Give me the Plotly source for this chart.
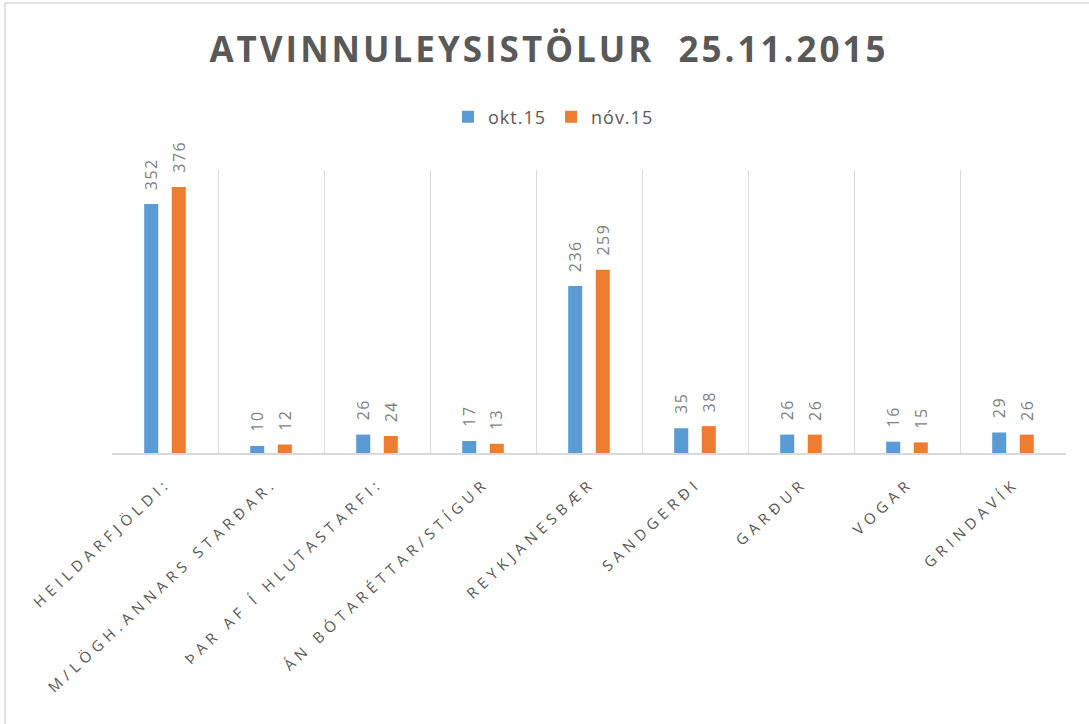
import plotly.graph_objects as go

categories = ["HEILDARFJÖLDI:", "M/LÖGH.ANNARS STARÐAR.", "ÞAR AF Í HLUTASTARFI:",
              "ÁN BÓTARÉTTAR/STÍGUR", "REYKJANESBÆR", "SANDGERÐI", "GARÐUR", "VOGAR", "GRINDAVÍK"]
okt15 = [352, 10, 26, 17, 236, 35, 26, 16, 29]
nov15 = [376, 12, 24, 13, 259, 38, 26, 15, 26]
series_names = ["okt.15", "nóv.15"]
title_text = "ATVINNULEYSISTÖLUR  25.11.2015"

W, H = 1089, 724
L, R, T, B = 112, 1066, 170, 453
title_gray = "#595959"
label_gray = "#7F7F7F"
font_family = "Open Sans, Liberation Sans, sans-serif"
BARGAP, BARGROUPGAP = 0.48, 0.49


def spaced(s, sp):
    return "<span style='letter-spacing:%spx'>%s</span>" % (sp, s)


series = [(series_names[0], okt15, "#5B9BD5"), (series_names[1], nov15, "#ED7D31")]

fig = go.Figure()
for name, vals, color in series:
    fig.add_trace(go.Bar(
        x=categories, y=vals, name=spaced(name, 1), marker=dict(color=color, line=dict(width=0)),
        hoverinfo="x+y",
    ))

# value labels, placed over each bar of the group
cat_px = (R - L) / len(categories)
slot_px = cat_px * (1 - BARGAP) / len(series)
for j, (name, vals, color) in enumerate(series):
    off = (j - (len(series) - 1) / 2) * slot_px
    for c, v in zip(categories, vals):
        fig.add_annotation(x=c, y=v, xref="x", yref="y", text=spaced(str(v), 1.5),
                           textangle=-90, showarrow=False, xanchor="center", yanchor="bottom",
                           xshift=off, yshift=12,
                           font=dict(color=label_gray, size=16, family=font_family))


def px_x(p):
    return (p - L) / (R - L)


def px_y(p):
    return (B - p) / (B - T)


fig.add_shape(type="rect", xref="paper", yref="paper",
              x0=px_x(5), x1=px_x(1100), y0=px_y(740), y1=px_y(3),
              line=dict(color="#D9D9D9", width=1.5), fillcolor="rgba(0,0,0,0)", layer="below")

fig.update_layout(
    width=W, height=H,
    margin=dict(l=L, r=W - R, t=T, b=H - B, pad=0),
    paper_bgcolor="white", plot_bgcolor="white",
    barmode="group", bargap=BARGAP, bargroupgap=BARGROUPGAP,
    title=dict(text="<b>" + spaced(title_text, 3) + "</b>", x=549 / W, xanchor="center",
               xref="container", y=1 - 50 / H, yanchor="middle",
               font=dict(size=35, color=title_gray, family=font_family)),
    legend=dict(orientation="h", x=448 / W, xanchor="left", xref="container",
                y=1 - 117 / H, yanchor="middle", yref="container",
                font=dict(size=18, color=title_gray, family=font_family),
                itemwidth=30),
    xaxis=dict(tickangle=-43, tickson="boundaries", showgrid=True, gridcolor="#D9D9D9",
               gridwidth=1, showline=True, linecolor="#D9D9D9", linewidth=1.5,
               ticks="", tickvals=categories, ticktext=[spaced(c, 5) for c in categories],
               ticklabelstandoff=14, ticklabelshift=2,
               tickfont=dict(size=15, color=title_gray, family=font_family)),
    yaxis=dict(range=[0, 400], showgrid=False, showticklabels=False, zeroline=False, ticks=""),
    showlegend=True,
)

fig.write_html("out.html", config={"displayModeBar": False},
               post_script="document.body.style.margin='0';")
